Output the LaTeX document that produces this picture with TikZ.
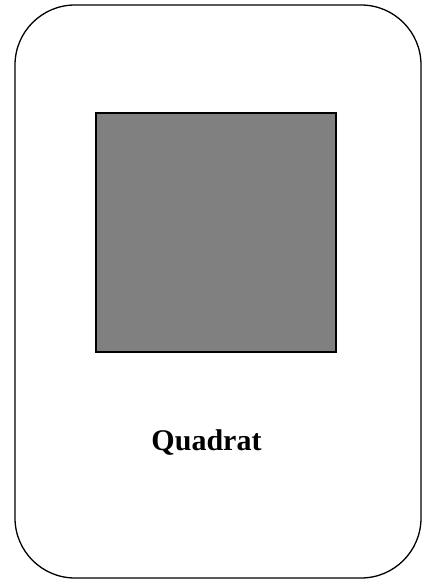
\documentclass[tikz,border=0pt]{standalone}
\usepackage{fontspec}
\setmainfont{Liberation Serif}
\begin{document}
\begin{tikzpicture}[x=1pt,y=1pt,
  outerbox/.style={draw=black,line width=1.3pt,rounded corners=60pt},
  innersq/.style={draw=black,line width=1.5pt,fill={rgb,255:red,128;green,128;blue,128}},
  label/.style={font=\fontsize{30}{33}\selectfont\bfseries,anchor=base,inner sep=0pt}]
\useasboundingbox (0,0) rectangle (427,581);
\draw[outerbox] (15,3) rectangle (421,576);
\node[innersq,minimum width=240pt,minimum height=239pt,inner sep=0pt] (sq) at (216,348.5) {};
\node[label] (t) at (206.5,130) {Quadrat};
\end{tikzpicture}
\end{document}
